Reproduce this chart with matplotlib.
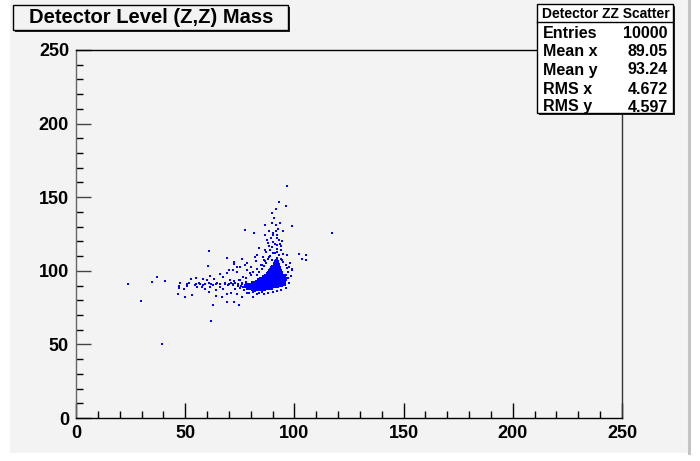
import matplotlib
matplotlib.use('Agg')
from matplotlib import pyplot as plt
from matplotlib.patches import Rectangle
from matplotlib.lines import Line2D
import numpy as np

plt.rcParams['font.family'] = ['Liberation Sans', 'DejaVu Sans']
plt.rcParams['font.weight'] = 'bold'

# dense core of the distribution, one row per unit of y: row bottom, x from, x to
core_y = [86, 87, 88, 89, 90, 91, 92, 93, 94, 95, 96, 97, 98, 99, 100, 101, 102, 103, 104, 105, 106, 107]
core_x0 = [80, 78, 76, 76, 77, 78, 80, 82, 83, 84, 85, 86, 87, 87.5, 88, 88.5, 89, 89.5, 90, 90, 90.5, 91]
core_x1 = [87, 90, 93, 95, 96, 96, 96, 96.5, 96.5, 96.5, 96, 95.5, 95, 95, 94.5, 94, 94, 93.5, 93.5, 93, 93, 92.5]

# single entries (x mass, y mass)
pts_x = [96.8, 93.1, 96.2, 91.7, 89.9, 90.8, 77.5, 81.5, 117.2, 98.9, 86.5, 93.6,
         60.9, 69.3, 60.3, 36.9, 40.9, 23.7, 34.8, 29.9, 61.7, 39.4, 62.6, 69.0,
         74.8, 72.4, 46.7, 50.1, 53.1, 47.2, 47.6, 51.0, 52.5, 54.9, 103.6, 105.1,
         101.9, 105.3, 98.9, 96.6,
         89.7, 88.5, 91.6, 94.9, 92.6, 90.3, 89.1, 91.9, 94.3, 90.3, 87.3, 88.2,
         89.7, 91.9, 93.7, 83.9, 91.0, 92.8, 94.9, 96.4, 88.2, 86.7, 89.7, 85.5,
         91.9, 93.4, 86.7, 91.6, 86.4, 82.7, 84.5, 82.4, 80.3, 77.5, 75.1, 78.1,
         73.6, 72.3, 76.0, 82.1, 94.3, 98.0, 98.9, 97.4, 96.1, 98.6,
         56.5, 58.3, 59.8, 61.4, 63.2, 64.7, 65.9, 67.5, 68.4, 69.9, 70.5, 71.7,
         73.0, 74.5, 75.4, 76.3, 77.8, 64.1, 61.4, 59.2, 57.7, 55.6, 61.0, 60.7,
         64.1, 66.8, 69.0, 71.1, 73.6, 76.0, 78.1, 80.9, 82.7, 85.2, 81.2, 69.0,
         65.9, 71.7, 73.9, 72.3, 78.1, 79.7, 51.6, 58.3, 54.3, 50.7, 47.3, 49.4,
         62.9, 67.5, 69.6, 70.8, 72.3, 74.2, 76.0,
         55.0, 57.0, 59.0, 62.0, 64.0, 66.0, 68.0, 70.0, 72.0, 74.0, 76.0, 78.0,
         85.0, 84.0, 83.0, 86.0, 87.0, 88.0, 89.0, 92.0, 94.0, 95.0, 96.0, 97.0,
         97.0, 97.5, 96.0, 94.0, 92.0, 90.0, 88.0, 86.0, 84.0, 82.0, 79.0, 77.0,
         75.0, 74.0, 73.0, 75.0, 78.0, 80.0, 81.0, 83.0, 85.0, 86.0, 90.0, 92.0,
         89.0, 91.0, 88.0, 93.0, 90.0, 92.0, 94.0, 87.0]
pts_y = [157.6, 146.7, 144.2, 141.8, 139.5, 135.6, 127.5, 125.7, 125.7, 130.2, 130.8, 132.6,
         113.7, 108.7, 103.5, 96.0, 92.8, 90.8, 92.2, 79.7, 65.7, 50.5, 77.1, 79.1,
         77.1, 79.1, 84.2, 82.4, 83.5, 88.3, 91.9, 90.8, 94.2, 95.3, 108.2, 107.5,
         111.2, 111.0, 100.9, 101.8,
         132.3, 127.3, 127.3, 126.8, 128.2, 124.1, 122.1, 122.1, 120.5, 119.8, 121.0, 116.9,
         116.0, 115.1, 114.2, 115.5, 112.4, 110.5, 111.4, 110.5, 109.2, 106.9, 107.4, 109.2,
         117.6, 118.2, 124.1, 130.9, 114.2, 111.0, 103.7, 106.9, 102.4, 104.2, 102.8, 100.6,
         99.2, 104.7, 108.3, 109.2, 107.4, 105.1, 100.6, 102.8, 97.4, 96.5,
         91.5, 90.4, 93.8, 96.5, 94.7, 92.0, 89.3, 95.6, 91.5, 100.6, 93.8, 90.6,
         87.9, 93.8, 89.7, 96.1, 92.4, 87.0, 89.3, 87.9, 88.8, 89.3, 91.5, 85.6,
         82.9, 82.5, 84.3, 85.2, 84.3, 82.5, 84.7, 82.5, 84.3, 85.6, 85.6, 98.3,
         97.9, 100.6, 102.4, 106.0, 105.1, 98.3, 91.5, 94.2, 90.4, 89.7, 89.5, 87.4,
         90.4, 87.9, 90.2, 91.5, 92.9, 91.1, 91.5,
         91.2, 91.0, 91.3, 91.1, 91.2, 91.0, 91.3, 91.1, 91.2, 91.0, 91.3, 91.1,
         101.0, 99.0, 97.0, 103.0, 105.0, 108.0, 110.0, 109.0, 108.0, 106.0, 104.0, 99.0,
         95.0, 92.0, 88.0, 87.0, 86.5, 85.5, 85.0, 84.5, 85.0, 86.0, 85.0, 87.0,
         88.0, 90.0, 92.0, 94.0, 95.0, 97.0, 99.0, 101.0, 104.0, 107.0, 112.0, 113.0,
         114.0, 118.0, 119.0, 121.0, 126.0, 124.0, 117.0, 113.0]

stats_names = ['Entries', 'Mean x', 'Mean y', 'RMS x', 'RMS y']
stats_vals = ['10000', '89.05', '93.24', '4.672', '4.597']

W, H = 700, 461
bg = '#f3f3f3'


def fx(px):
    return px / W


def fy(py):
    return 1 - py / H


fig = plt.figure(figsize=(W / 100, H / 100), dpi=100, facecolor='white')
# canvas
fig.add_artist(Rectangle((fx(10), fy(453)), 678 / W, 453 / H, transform=fig.transFigure,
                         facecolor=bg, edgecolor='none', zorder=-10))
fig.add_artist(Line2D([fx(688.5), fx(688.5)], [fy(453), 1], transform=fig.transFigure,
                      color='#c4c4c4', lw=2.2, zorder=-9))

ax = fig.add_axes([fx(76), fy(418), 546 / W, 368 / H])
ax.set_facecolor(bg)
ax.barh(core_y, np.array(core_x1) - np.array(core_x0), left=core_x0, height=1,
        align='edge', color='#0000ff', linewidth=0)
ax.scatter(pts_x, pts_y, s=2.5, marker='s', color='#0000ff', linewidths=0)

ax.set_xlim(0, 250)
ax.set_ylim(0, 250)
ax.set_xticks(range(0, 251, 50))
ax.set_yticks(range(0, 251, 50))
ax.set_xticks(range(0, 251, 10), minor=True)
ax.set_yticks(range(0, 251, 10), minor=True)
ax.tick_params(which='both', direction='in', top=False, right=False, width=1)
ax.tick_params(which='major', length=11, labelsize=13, pad=5)
ax.tick_params(which='minor', length=5)
ax.tick_params(axis='y', colors='#444444', labelcolor='black')
for lab in ax.get_xticklabels() + ax.get_yticklabels():
    lab.set_fontweight('bold')
ax.spines['left'].set_color('#666666')
ax.spines['bottom'].set_color('black')
ax.spines['top'].set_color('black')
ax.spines['right'].set_color('#333333')
for s in ax.spines.values():
    s.set_linewidth(1)

# title box
fig.add_artist(Rectangle((fx(15), fy(32)), 275 / W, 25 / H, transform=fig.transFigure,
                         facecolor='#222222', edgecolor='none', zorder=5))
fig.add_artist(Rectangle((fx(13), fy(30)), 275 / W, 25 / H, transform=fig.transFigure,
                         facecolor=bg, edgecolor='black', lw=1, zorder=6))
fig.text(fx(151), fy(17.5), 'Detector Level (Z,Z) Mass', ha='center', va='center',
         fontsize=14.5, fontweight='bold', zorder=7)

# stats box
fig.add_artist(Rectangle((fx(539), fy(115)), 136 / W, 109 / H, transform=fig.transFigure,
                         facecolor='#222222', edgecolor='none', zorder=5))
fig.add_artist(Rectangle((fx(537), fy(113)), 136 / W, 109 / H, transform=fig.transFigure,
                         facecolor='white', edgecolor='black', lw=1, zorder=6))
fig.add_artist(Line2D([fx(537), fx(673)], [fy(22), fy(22)], transform=fig.transFigure,
                      color='black', lw=1, zorder=7))
fig.text(fx(605.5), fy(14), 'Detector ZZ Scatter', ha='center', va='center',
         fontsize=10, fontweight='bold', zorder=8)
row_y = [34, 52, 70, 89, 107]
for name, val, yy in zip(stats_names, stats_vals, row_y):
    fig.text(fx(543), fy(yy), name, ha='left', va='center', fontsize=11.5,
             fontweight='bold', zorder=8)
    fig.text(fx(668), fy(yy), val, ha='right', va='center', fontsize=11.5,
             fontweight='bold', zorder=8)

plt.savefig('out.png', dpi=100, facecolor=fig.get_facecolor())
